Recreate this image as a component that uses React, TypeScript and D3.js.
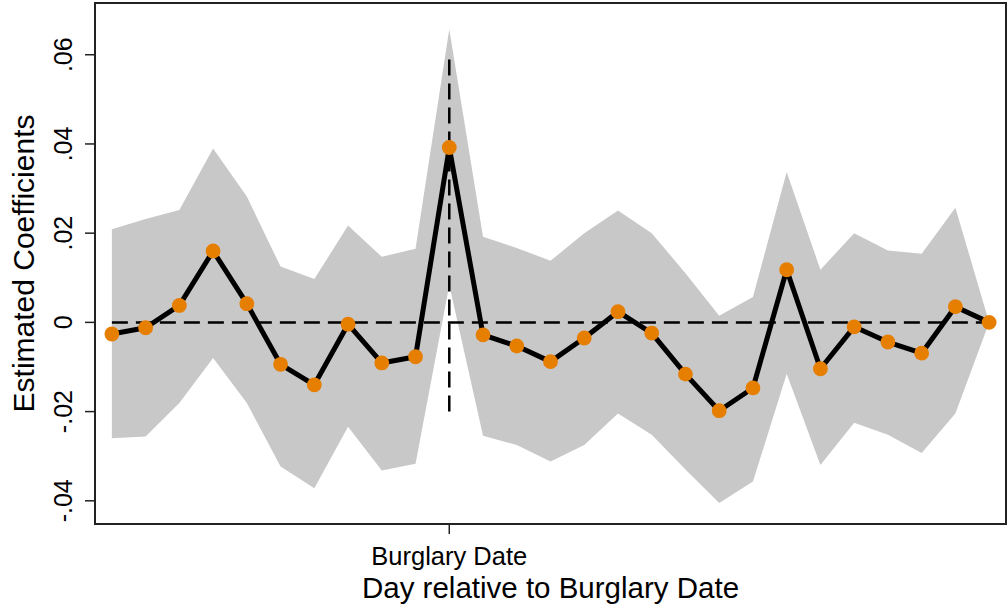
import React from "react";
import * as d3 from "d3";

const days = [-10, -9, -8, -7, -6, -5, -4, -3, -2, -1, 0, 1, 2, 3, 4, 5, 6, 7, 8, 9, 10, 11, 12, 13, 14, 15, 16];
const coef = [-0.0026, -0.0012, 0.0038, 0.016, 0.0042, -0.0094, -0.014, -0.0004, -0.0091, -0.0077, 0.0392, -0.0028, -0.0053, -0.0088, -0.0035, 0.0024, -0.0024, -0.0116, -0.0198, -0.0147, 0.0118, -0.0104, -0.001, -0.0044, -0.0069, 0.0035, 0.0];
const upper = [0.0209, 0.0232, 0.0252, 0.039, 0.0282, 0.0125, 0.0097, 0.0217, 0.0147, 0.0165, 0.0657, 0.0192, 0.0167, 0.0138, 0.02, 0.0251, 0.02, 0.011, 0.0015, 0.0057, 0.0337, 0.0118, 0.02, 0.0161, 0.0154, 0.0257, 0.0];
const lower = [-0.026, -0.0256, -0.0181, -0.008, -0.0181, -0.0323, -0.0372, -0.0234, -0.0332, -0.0317, 0.0084, -0.0254, -0.0275, -0.0312, -0.0275, -0.0204, -0.0252, -0.033, -0.0405, -0.0357, -0.0115, -0.032, -0.0225, -0.0252, -0.0293, -0.0204, 0.0];
const yTicks = [-0.04, -0.02, 0, 0.02, 0.04, 0.06];
const yTickLabels = ["-.04", "-.02", "0", ".02", ".04", ".06"];
const xTicks = [0];
const xTickLabels = ["Burglary Date"];
const xTitle = "Day relative to Burglary Date";
const yTitle = "Estimated Coefficients";

const W = 1008;
const H = 605;
const L = 95, R = 1006, T = 3, B = 524;
const FONT = "'Liberation Sans', Arial, Helvetica, sans-serif";

export default function App() {
  const x = d3.scaleLinear().domain([-10.5, 16.5]).range([L, R]);
  const y = d3.scaleLinear().domain([-0.0452, 0.0716]).range([B, T]);

  const idx = days.map((_, i) => i);
  const area = d3
    .area<number>()
    .x((i) => x(days[i]))
    .y0((i) => y(lower[i]))
    .y1((i) => y(upper[i]))(idx) as string;
  const line = d3
    .line<number>()
    .x((i) => x(days[i]))
    .y((i) => y(coef[i]))(idx) as string;

  const x0 = x(days[0]);
  const x1 = x(days[days.length - 1]);

  return (
    <svg
      width={W}
      height={H}
      style={{ position: "absolute", left: 0, top: 0, background: "#fff" }}
    >
      <rect x={0} y={0} width={W} height={H} fill="#fff" />
      <path d={area} fill="#c8c8c8" stroke="none" />
      <line x1={x0} x2={x1} y1={y(0)} y2={y(0)} stroke="#000" strokeWidth={2.5} strokeDasharray="16,8" />
      <line x1={x(0)} x2={x(0)} y1={y(-0.02)} y2={y(0.06)} stroke="#000" strokeWidth={2.5} strokeDasharray="16,8" />
      <path d={line} fill="none" stroke="#000" strokeWidth={5} strokeLinejoin="round" />
      {idx.map((i) => (
        <circle key={i} cx={x(days[i])} cy={y(coef[i])} r={7.4} fill="#e67e00" />
      ))}
      <rect x={L} y={T} width={R - L} height={B - T} fill="none" stroke="#222" strokeWidth={2} />
      {yTicks.map((t, i) => (
        <g key={t}>
          <line x1={L - 10} x2={L} y1={y(t)} y2={y(t)} stroke="#222" strokeWidth={1.5} />
          <text
            transform={`translate(72,${y(t)}) rotate(-90)`}
            textAnchor="middle"
            fontFamily={FONT}
            fontSize={25}
            fill="#000"
          >
            {yTickLabels[i]}
          </text>
        </g>
      ))}
      {xTicks.map((t, i) => (
        <g key={t}>
          <line x1={x(t)} x2={x(t)} y1={B} y2={B + 10} stroke="#222" strokeWidth={1.5} />
          <text x={x(t)} y={565} textAnchor="middle" fontFamily={FONT} fontSize={25.5} fill="#000">
            {xTickLabels[i]}
          </text>
        </g>
      ))}
      <text x={(L + R) / 2} y={598} textAnchor="middle" fontFamily={FONT} fontSize={29.5} fill="#000">
        {xTitle}
      </text>
      <text
        transform={`translate(33.5,${(T + B) / 2}) rotate(-90)`}
        textAnchor="middle"
        fontFamily={FONT}
        fontSize={30}
        fill="#000"
      >
        {yTitle}
      </text>
    </svg>
  );
}
